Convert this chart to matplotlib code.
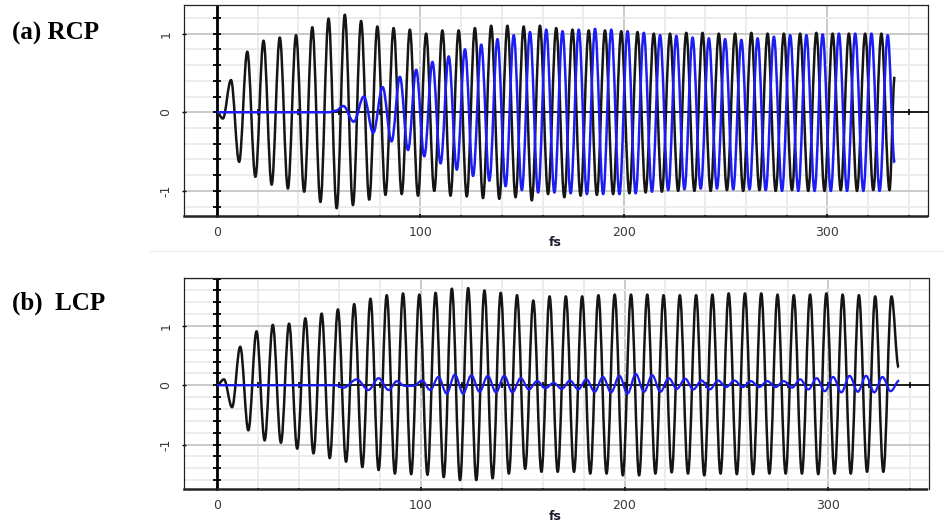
import numpy as np
import matplotlib.pyplot as plt
from matplotlib.lines import Line2D
from matplotlib.patches import PathPatch
from matplotlib.path import Path
from matplotlib.ticker import MultipleLocator

plt.rcParams["axes.unicode_minus"] = False

# Both carriers swing with a period of ~8 fs, so neighbouring extrema sit half a period apart.
HALF_PERIOD = 3.995
HALF_PERIOD_LCP_BLUE = 4.035

# (a) RCP, black trace: alternating extrema (trough first) from 2.9 fs
rcp_black_t0 = 2.9
rcp_black = [
    -0.08, 0.41, -0.63, 0.77, -0.82, 0.91, -0.92, 0.95, -0.97, 0.98,
    -1.01, 1.08, -1.14, 1.19, -1.22, 1.24, -1.18, 1.16, -1.11, 1.09,
    -1.05, 1.07, -1.04, 1.05, -1.06, 1.00, -1.00, 1.04, -1.06, 1.04,
    -1.07, 1.07, -1.09, 1.10, -1.10, 1.10, -1.08, 1.09, -1.12, 1.10,
    -1.04, 1.07, -1.08, 1.05, -1.06, 1.04, -1.05, 1.04, -1.04, 1.03,
    -1.03, 1.02, -1.02, 1.00, -1.01, 1.00, -1.00, 1.01, -1.00, 1.01,
    -1.00, 1.00, -0.99, 1.00, -1.00, 1.01, -0.99, 1.00, -1.00, 1.00,
    -0.99, 1.00, -1.00, 1.01, -1.00, 1.00, -0.99, 1.00, -1.00, 1.00,
    -0.99, 1.00, -0.99,
]
rcp_black_end = (333.0, 0.45)

# (a) RCP, blue trace: slow build-up, then alternating extrema (peak first) from 89.9 fs
rcp_blue_onset_t = [0.0, 55.0, 58.5, 62.1, 67.2, 72.2, 76.8, 81.4, 85.8]
rcp_blue_onset_v = [0.0, 0.0, 0.02, 0.08, -0.12, 0.20, -0.26, 0.32, -0.37]
rcp_blue_t0 = 89.9
rcp_blue = [
    0.45, -0.48, 0.54, -0.56, 0.64, -0.65, 0.71, -0.73, 0.80, -0.81,
    0.86, -0.87, 0.93, -0.94, 0.98, -0.99, 1.02, -1.02, 1.05, -1.02,
    1.03, -1.03, 1.05, -1.04, 1.06, -1.04, 1.05, -1.04, 1.03, -1.03,
    1.01, -1.01, 0.98, -0.99, 0.97, -0.98, 0.95, -0.97, 0.94, -0.97,
    0.93, -0.98, 0.92, -0.98, 0.94, -0.99, 0.96, -1.00, 0.98, -1.00,
    0.98, -1.00, 0.99, -1.00, 1.00, -1.00, 1.00, -1.00, 1.00, -1.00,
    0.98,
]
rcp_blue_end = (333.0, -0.64)

# (b) LCP, black trace: alternating extrema (peak first) from 3.4 fs
lcp_black_t0 = 3.4
lcp_black = [
    0.10, -0.37, 0.65, -0.76, 0.91, -0.93, 1.02, -0.97, 1.04, -1.07,
    1.13, -1.15, 1.21, -1.23, 1.28, -1.29, 1.37, -1.38, 1.46, -1.43,
    1.52, -1.49, 1.55, -1.50, 1.53, -1.51, 1.56, -1.55, 1.63, -1.60,
    1.64, -1.60, 1.60, -1.57, 1.56, -1.49, 1.52, -1.41, 1.43, -1.46,
    1.50, -1.46, 1.50, -1.46, 1.50, -1.49, 1.52, -1.49, 1.53, -1.52,
    1.53, -1.52, 1.53, -1.49, 1.52, -1.47, 1.52, -1.49, 1.52, -1.52,
    1.53, -1.49, 1.55, -1.50, 1.55, -1.50, 1.55, -1.49, 1.53, -1.49,
    1.52, -1.49, 1.53, -1.50, 1.55, -1.49, 1.53, -1.49, 1.52, -1.46,
    1.50, -1.46, 1.50,
]
lcp_black_end = (334.5, 0.30)

# (b) LCP, blue trace: small residual wiggle
lcp_blue_onset_t = [0.0, 58.0, 62.1, 68.6, 74.3, 79.3, 84.2, 88.3, 92.0, 96.5]
lcp_blue_onset_v = [0.0, 0.0, -0.04, 0.10, -0.08, 0.12, -0.08, 0.07, -0.01, -0.01]
lcp_blue_t0 = 100.6
lcp_blue = [
    0.08, -0.08, 0.14, -0.14, 0.18, -0.14, 0.17, -0.11, 0.16, -0.12,
    0.16, -0.12, 0.12, -0.07, 0.07, -0.05, 0.04, -0.06, 0.08, -0.07,
    0.10, -0.11, 0.14, -0.12, 0.16, -0.14, 0.19, -0.11, 0.17, -0.11,
    0.12, -0.06, 0.11, -0.07, 0.08, -0.07, 0.08, -0.03, 0.08, -0.03,
    0.07, -0.03, 0.07, -0.03, 0.07, -0.04, 0.10, -0.07, 0.12, -0.10,
    0.14, -0.12, 0.16, -0.11, 0.16, -0.12, 0.14, -0.10,
]
lcp_blue_end = (334.8, 0.08)

XLIM = (-16.2, 349.4)
TICK_FONT = dict(family="DejaVu Sans", size=9, color="#3a3a3a")
BLACK = "#151515"
BLUE = "#1c1cf5"


def trace(t0, half, extrema, end, onset_t=(0.0,), onset_v=(0.0,)):
    t_ext = t0 + half * np.arange(len(extrema))
    t = np.concatenate([onset_t, t_ext, [end[0]]])
    v = np.concatenate([onset_v, extrema, [end[1]]])
    return t, v


def wave_path(t, v, frac=0.36):
    # cubic segments with flat tangents at every sample, so extrema come out rounded
    verts = [(t[0], v[0])]
    codes = [Path.MOVETO]
    for i in range(1, len(t)):
        d = (t[i] - t[i - 1]) * frac
        verts += [(t[i - 1] + d, v[i - 1]), (t[i] - d, v[i]), (t[i], v[i])]
        codes += [Path.CURVE4] * 3
    return Path(verts, codes)


def draw_wave(ax, t, v, color, lw, zorder=3):
    ax.add_patch(PathPatch(wave_path(t, v), fill=False, edgecolor=color,
                           lw=lw, joinstyle="round", zorder=zorder))


def style_axes(ax, ylim):
    ax.set_xlim(*XLIM)
    ax.set_ylim(*ylim)
    ax.xaxis.set_major_locator(MultipleLocator(100))
    ax.xaxis.set_minor_locator(MultipleLocator(20))
    ax.yaxis.set_major_locator(MultipleLocator(1))
    ax.yaxis.set_minor_locator(MultipleLocator(0.2))
    ax.set_axisbelow(True)
    ax.grid(which="minor", color="#ebebeb", lw=1.3)
    ax.grid(which="major", color="#c6c6c6", lw=1.3)
    for spine in ax.spines.values():
        spine.set_linestyle((0, (1, 1)))
        spine.set_linewidth(0.9)
        spine.set_color("#222222")
    ax.spines["bottom"].set_linewidth(1.8)
    ax.tick_params(axis="x", which="major", length=3, width=1.2, direction="inout",
                   pad=6, labelsize=TICK_FONT["size"], labelcolor=TICK_FONT["color"])
    ax.tick_params(axis="x", which="minor", length=2, width=1.2, direction="inout")
    ax.tick_params(axis="y", which="major", length=3, width=1.0, direction="inout",
                   pad=7, labelsize=TICK_FONT["size"], labelcolor=TICK_FONT["color"],
                   labelrotation=90)
    ax.tick_params(axis="y", which="minor", length=0)
    for lbl in ax.get_yticklabels():
        lbl.set_verticalalignment("center")

    # axis lines through the origin, each with its own ticks
    ax.axvline(0, color="black", lw=2.0, zorder=2)
    ax.hlines(0, 0, XLIM[1], color="black", lw=1.2, zorder=2)
    yt = np.arange(np.ceil(ylim[0] / 0.2), np.floor(ylim[1] / 0.2) + 1) * 0.2
    ax.plot(np.zeros_like(yt), yt, ls="none", marker="_", ms=6, mew=1.3,
            color="black", zorder=2)
    xt = np.arange(20, XLIM[1], 20)
    ax.plot(xt, np.zeros_like(xt), ls="none", marker="|", ms=4, mew=1.2,
            color="black", zorder=2)


fig = plt.figure(figsize=(9.43, 5.25), dpi=100)
W, H = 943, 525


def px_rect(left, top, right, bottom):
    return [left / W, 1 - bottom / H, (right - left) / W, (bottom - top) / H]


ax_a = fig.add_axes(px_rect(184, 5, 928, 216))
ax_b = fig.add_axes(px_rect(184, 278, 929, 489))

style_axes(ax_a, (-1.318, 1.363))
style_axes(ax_b, (-1.75, 1.81))

t, v = trace(rcp_black_t0, HALF_PERIOD, rcp_black, rcp_black_end)
draw_wave(ax_a, t, v, BLACK, 1.8)
t, v = trace(rcp_blue_t0, HALF_PERIOD, rcp_blue, rcp_blue_end,
             rcp_blue_onset_t, rcp_blue_onset_v)
draw_wave(ax_a, t, v, BLUE, 1.8)

t, v = trace(lcp_black_t0, HALF_PERIOD, lcp_black, lcp_black_end)
draw_wave(ax_b, t, v, BLACK, 1.8)
t, v = trace(lcp_blue_t0, HALF_PERIOD_LCP_BLUE, lcp_blue, lcp_blue_end,
             lcp_blue_onset_t, lcp_blue_onset_v)
draw_wave(ax_b, t, v, BLUE, 1.6, zorder=4)

# axis titles and panel tags
for y_px in (243, 517):
    fig.text(555 / W, 1 - y_px / H, "fs", ha="center", va="center",
             family="DejaVu Sans", weight="bold", size=9, color="#1a1a2a")
fig.text(12 / W, 1 - 40 / H, "(a) RCP", family="Liberation Serif",
         weight="bold", size=18, va="baseline")
fig.text(12 / W, 1 - 310 / H, "(b)  LCP", family="Liberation Serif",
         weight="bold", size=18, va="baseline")

fig.add_artist(Line2D([150 / W, 1.0], [1 - 251 / H] * 2, color="#eeeeee", lw=1.0))

fig.savefig("out.png", dpi=100)
